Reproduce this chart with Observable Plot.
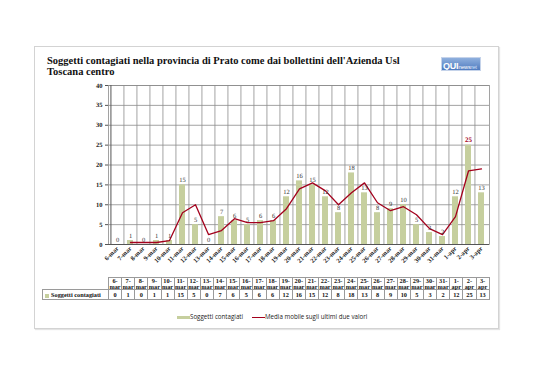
<!DOCTYPE html>
<html>
<head>
<meta charset="utf-8">
<script src="https://cdn.jsdelivr.net/npm/d3@7"></script>
<script src="https://cdn.jsdelivr.net/npm/@observablehq/plot@0.6"></script>
<style>
  html, body { margin: 0; padding: 0; background: #fff; }
  #page { position: relative; width: 538px; height: 380px; overflow: hidden; background: #fff; }
  #frame { position: absolute; left: 34px; top: 46px; width: 463px; height: 281px; border: 1px solid #d3d3d3; box-shadow: 1px 1px 1px #e4e4e4; background: #fff; }
  #title { position: absolute; left: 47px; top: 55px; font-family: "Liberation Serif", serif; font-weight: bold; font-size: 10.5px; line-height: 11px; color: #111; white-space: nowrap; }
  #logo { position: absolute; left: 441px; top: 57px; width: 38px; height: 12px; background: linear-gradient(#8fb0de, #4f7bc0); border: 1px solid #c5d3ea; font-family: "Liberation Sans", sans-serif; color: #fff; line-height: 12px; white-space: nowrap; overflow: hidden; letter-spacing: -0.2px; }
  #logo b { font-size: 9px; margin-left: 1px; }
  #logo span { font-size: 5.5px; }
  #logo i { font-size: 5px; font-style: normal; color: #cfe0f8; }
  #chart { position: absolute; left: 0; top: 0; }
  #tbl { position: absolute; left: 42px; top: 277px; border-collapse: collapse; table-layout: fixed; font-family: "Liberation Serif", serif; font-weight: bold; font-size: 6.3px; color: #111; }
  #tbl td { border: 1px solid #9a9a9a; padding: 0; text-align: center; overflow: visible; white-space: nowrap; }
  #tbl tr.h td { height: 11px; line-height: 5.6px; vertical-align: middle; }
  #tbl tr.v td { height: 9px; line-height: 9px; }
  #tbl td.blank { border: none; }
  #tbl td.name { text-align: left; padding-left: 2px; }
  .sw { display: inline-block; width: 4px; height: 4px; background: #c6cf9e; margin-right: 2px; vertical-align: middle; }
  #legend { position: absolute; top: 312px; left: 0; width: 538px; font-family: "Open Sans", sans-serif; font-size: 6.2px; color: #222; }
  #legend .item { position: absolute; top: 0; white-space: nowrap; line-height: 9px; }
  #legend .bar { display: inline-block; width: 13px; height: 3px; background: #c6cf9e; vertical-align: middle; }
  #legend .ln { display: inline-block; width: 13px; height: 1.3px; background: #a3001c; vertical-align: middle; }
  #chart svg text { text-rendering: geometricPrecision; }
</style>
</head>
<body>
<div id="page">
  <div id="frame"></div>
  <div id="title">Soggetti contagiati nella provincia di Prato come dai bollettini dell'Azienda Usl<br>Toscana centro</div>
  <div id="logo"><b>QUI</b><span>news</span><i>net</i></div>
  <div id="chart"></div>
  <table id="tbl"></table>
  <div id="legend"></div>
</div>
<script>
const dates = ["6-mar","7-mar","8-mar","9-mar","10-mar","11-mar","12-mar","13-mar","14-mar","15-mar","16-mar","17-mar","18-mar","19-mar","20-mar","21-mar","22-mar","23-mar","24-mar","25-mar","26-mar","27-mar","28-mar","29-mar","30-mar","31-mar","1-apr","2-apr","3-apr"];
const contagiati = [0,1,0,1,1,15,5,0,7,6,5,6,6,12,16,15,12,8,18,13,8,9,10,5,3,2,12,25,13];
const mediaMobile = [null,0.5,0.5,0.5,1,8,10,2.5,3.5,6.5,5.5,5.5,6,9,14,15.5,13.5,10,13,15.5,10.5,8.5,9.5,7.5,4,2.5,7,18.5,19];
const yTicks = [0,5,10,15,20,25,30,35,40];
const highlightDate = "2-apr";
const seriesBar = "Soggetti contagiati";
const seriesLine = "Media mobile sugli ultimi due valori";

const barColor = "#c6cf9e";
const lineColor = "#a3001c";
const gridColor = "#8c8c8c";

const rows = dates.map((d, i) => ({date: d, v: contagiati[i], ma: mediaMobile[i]}));
const lineRows = rows.filter(r => r.ma != null);

const left = 108, right = 489;
const step = (right - left) / dates.length;

const plot = Plot.plot({
  width: 538,
  height: 266,
  marginLeft: left,
  marginRight: 538 - right,
  marginTop: 85,
  marginBottom: 22,
  style: {fontFamily: "Liberation Serif, serif", background: "transparent", color: "#222"},
  x: {domain: dates, paddingInner: 0.55, paddingOuter: 0.275, label: null},
  y: {domain: [0, 40], label: null},
  marks: [
    Plot.ruleY(yTicks.filter(t => t > 0), {stroke: gridColor, strokeWidth: 0.8}),
    Plot.ruleX(dates.slice(1), {x: d => d, dx: -step / 2, stroke: gridColor, strokeWidth: 0.8}),
    Plot.frame({stroke: gridColor, strokeWidth: 0.8}),
    Plot.barY(rows, {x: "date", y: "v", fill: barColor}),
    Plot.line(lineRows, {x: "date", y: "ma", stroke: lineColor, strokeWidth: 1.3}),
    Plot.text(rows.filter(r => r.date !== highlightDate), {x: "date", y: "v", text: d => String(d.v), dy: -5, fontSize: 6.5, fill: "#333"}),
    Plot.text(rows.filter(r => r.date === highlightDate), {x: "date", y: "v", text: d => String(d.v), dy: -5, fontSize: 7, fontWeight: "bold", fill: lineColor}),
    Plot.ruleY([0], {stroke: "#555", strokeWidth: 1}),
    Plot.ruleX([0], {x: () => dates[0], dx: -step / 2, y1: 0, y2: 40, stroke: "#555", strokeWidth: 1}),
    Plot.axisY({ticks: yTicks, tickSize: 3, tickPadding: 3, fontSize: 6.5, fontWeight: "bold", stroke: "#555"}),
    Plot.axisX({tickSize: 0, tickRotate: -45, tickPadding: 3, fontSize: 6.5, fontWeight: "bold"})
  ]
});
document.getElementById("chart").appendChild(plot);

// data table
const tbl = document.getElementById("tbl");
const cg = document.createElement("colgroup");
const c0 = document.createElement("col"); c0.style.width = (left - 42) + "px"; cg.appendChild(c0);
dates.forEach(() => { const c = document.createElement("col"); c.style.width = step + "px"; cg.appendChild(c); });
tbl.appendChild(cg);
tbl.style.width = (left - 42 + step * dates.length) + "px";
const trh = document.createElement("tr"); trh.className = "h";
const blank = document.createElement("td"); blank.className = "blank"; trh.appendChild(blank);
dates.forEach(d => {
  const td = document.createElement("td");
  const [a, b] = d.split("-");
  td.innerHTML = a + "-<br>" + b;
  trh.appendChild(td);
});
tbl.appendChild(trh);
const trv = document.createElement("tr"); trv.className = "v";
const nm = document.createElement("td"); nm.className = "name";
nm.innerHTML = '<span class="sw"></span>' + seriesBar;
trv.appendChild(nm);
contagiati.forEach(v => { const td = document.createElement("td"); td.textContent = v; trv.appendChild(td); });
tbl.appendChild(trv);

// legend
const lg = document.getElementById("legend");
lg.innerHTML = '<div class="item" style="left:177px"><span class="bar"></span>' + seriesBar + '</div>' +
  '<div class="item" style="left:252px"><span class="ln"></span>' + seriesLine + '</div>';
</script>
</body>
</html>
